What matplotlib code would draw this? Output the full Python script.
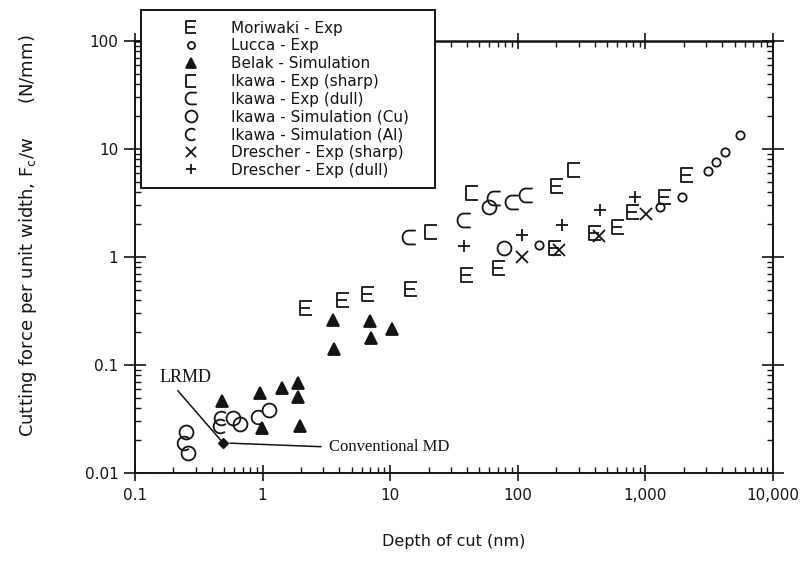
import numpy as np
import matplotlib
matplotlib.use("Agg")
import matplotlib.pyplot as plt
from matplotlib.path import Path
from matplotlib.ticker import LogLocator, FuncFormatter, NullFormatter

# Cutting force per unit width vs. depth of cut (log-log)
moriwaki_depth = [2.2, 4.3, 6.7, 14.6, 40, 71, 197, 203, 404, 615, 806, 1426, 2105]
moriwaki_force = [0.34, 0.40, 0.45, 0.51, 0.68, 0.79, 1.2, 4.5, 1.66, 1.91, 2.62, 3.6, 5.7]

lucca_depth = [146, 1303, 1923, 3105, 3607, 4198, 5500]
lucca_force = [1.29, 2.9, 3.6, 6.2, 7.6, 9.4, 13.5]

belak_depth = [0.48, 0.95, 1.42, 1.89, 1.89, 0.99, 1.97, 3.54, 3.63, 6.93, 7.06, 10.3]
belak_force = [0.046, 0.055, 0.061, 0.068, 0.051, 0.026, 0.027, 0.26, 0.14, 0.255, 0.177, 0.214]

ikawa_sharp_depth = [20.8, 44, 274]
ikawa_sharp_force = [1.71, 3.9, 6.4]

ikawa_dull_depth = [14.1, 37.9, 65, 90, 115]
ikawa_dull_force = [1.52, 2.2, 3.5, 3.25, 3.75]

ikawa_cu_depth = [0.25, 0.26, 0.59, 0.66, 1.13, 59, 78]
ikawa_cu_force = [0.024, 0.0153, 0.032, 0.0285, 0.038, 2.9, 1.2]

ikawa_al_depth = [0.24, 0.46, 0.475, 0.92]
ikawa_al_force = [0.019, 0.027, 0.032, 0.033]

drescher_sharp_depth = [108, 209, 430, 1019]
drescher_sharp_force = [1.0, 1.16, 1.56, 2.5]

drescher_dull_depth = [38, 108, 221, 443, 830]
drescher_dull_force = [1.26, 1.6, 1.98, 2.72, 3.6]

md_depth = [0.49]
md_force = [0.019]

# custom open marker shapes
E_MARK = Path([(0.8, 1), (-0.8, 1), (-0.8, -1), (0.8, -1), (-0.8, 0), (0.6, 0)],
              [Path.MOVETO, Path.LINETO, Path.LINETO, Path.LINETO, Path.MOVETO, Path.LINETO])
SQ_C = Path([(0.9, 1), (-0.9, 1), (-0.9, -1), (0.9, -1)],
            [Path.MOVETO, Path.LINETO, Path.LINETO, Path.LINETO])
_t = np.linspace(np.pi / 2, 3 * np.pi / 2, 25)
_round = np.column_stack([-0.1 + 0.9 * np.cos(_t), np.sin(_t)])
ROUND_C = Path(np.vstack([[0.9, 1.0], _round, [0.9, -1.0]]))
ARC_C = Path.arc(50, 310)

INK = "#141414"
plt.rcParams["font.family"] = ["DejaVu Sans"]

fig = plt.figure(figsize=(8.07, 5.61), dpi=100)
ax = fig.add_axes([135 / 807, 1 - 473 / 561, (773 - 135) / 807, (473 - 41) / 561])
ax.set_xscale("log")
ax.set_yscale("log")
ax.set_xlim(0.1, 10000)
ax.set_ylim(0.01, 100)

common = dict(linestyle="none", color=INK, markeredgewidth=1.3)
ax.plot(moriwaki_depth, moriwaki_force, marker=E_MARK, markersize=10,
        markerfacecolor="none", label="Moriwaki - Exp", **common)
ax.plot(lucca_depth, lucca_force, marker="o", markersize=6,
        markerfacecolor="none", label="Lucca - Exp", **common)
ax.plot(belak_depth, belak_force, marker="^", markersize=8,
        markerfacecolor=INK, label="Belak - Simulation", **common)
ax.plot(ikawa_sharp_depth, ikawa_sharp_force, marker=SQ_C, markersize=10,
        markerfacecolor="none", label="Ikawa - Exp (sharp)", **common)
ax.plot(ikawa_dull_depth, ikawa_dull_force, marker=ROUND_C, markersize=10,
        markerfacecolor="none", label="Ikawa - Exp (dull)", **common)
ax.plot(ikawa_cu_depth, ikawa_cu_force, marker="o", markersize=10,
        markerfacecolor="none", label="Ikawa - Simulation (Cu)", **common)
ax.plot(ikawa_al_depth, ikawa_al_force, marker=ARC_C, markersize=10,
        markerfacecolor="none", label="Ikawa - Simulation (Al)", **common)
ax.plot(drescher_sharp_depth, drescher_sharp_force, marker="x", markersize=8,
        label="Drescher - Exp (sharp)", **common)
ax.plot(drescher_dull_depth, drescher_dull_force, marker="+", markersize=9,
        label="Drescher - Exp (dull)", **common)
ax.plot(md_depth, md_force, marker="D", markersize=5, markerfacecolor=INK,
        linestyle="none", color=INK)

# annotations for the two MD results
ax.annotate("LRMD", xy=(md_depth[0], md_force[0]), xytext=(0.157, 0.077),
            textcoords="data", ha="left", va="center", fontsize=13,
            family="Liberation Serif", color=INK,
            arrowprops=dict(arrowstyle="-", color=INK, lw=1.1,
                            relpos=(0.26, 0.0), shrinkA=2, shrinkB=1))
ax.annotate("Conventional MD", xy=(md_depth[0], md_force[0]), xytext=(3.34, 0.0174),
            textcoords="data", ha="left", va="center", fontsize=12,
            family="Liberation Serif", color=INK,
            arrowprops=dict(arrowstyle="-", color=INK, lw=1.1,
                            relpos=(0.0, 0.5), shrinkA=4, shrinkB=5))

# axes frame and ticks
for s in ax.spines.values():
    s.set_linewidth(1.4)
    s.set_color(INK)
ax.spines["top"].set_linewidth(1.8)

def fmt(v, _):
    return f"{v:,.0f}" if v >= 1 else f"{v:g}"

ax.xaxis.set_major_locator(LogLocator(base=10, numticks=10))
ax.yaxis.set_major_locator(LogLocator(base=10, numticks=10))
ax.xaxis.set_minor_locator(LogLocator(base=10, subs=range(2, 10), numticks=20))
ax.yaxis.set_minor_locator(LogLocator(base=10, subs=range(2, 10), numticks=20))
ax.xaxis.set_major_formatter(FuncFormatter(fmt))
ax.yaxis.set_major_formatter(FuncFormatter(fmt))
ax.xaxis.set_minor_formatter(NullFormatter())
ax.yaxis.set_minor_formatter(NullFormatter())

ax.tick_params(which="major", direction="inout", length=12, width=1.2,
               color=INK, labelsize=11, labelcolor=INK, pad=5,
               top=True, right=True)
ax.tick_params(axis="y", which="major", length=16, pad=4)
ax.tick_params(which="minor", direction="in", length=4, width=1.0,
               color=INK, top=True, right=True)

ax.set_xlabel("Depth of cut (nm)", fontsize=11.5, color=INK, labelpad=22)
ax.set_ylabel(r"Cutting force per unit width, F$_\mathregular{c}$/w      (N/mm)",
              fontsize=13, color=INK)
ax.yaxis.set_label_coords(-0.150, 0.549)

leg = fig.legend(loc="upper left",
                 bbox_to_anchor=(141 / 807, 1 - 189 / 561, (435 - 141) / 807, (189 - 10) / 561),
                 mode="expand", fontsize=11, frameon=True, fancybox=False,
                 edgecolor=INK, framealpha=1, borderpad=0.7, labelspacing=0.18,
                 handlelength=5.2, handletextpad=0.0, numpoints=1, borderaxespad=0,
                 markerscale=0.85)
leg.get_frame().set_linewidth(1.4)
for t in leg.get_texts():
    t.set_color(INK)

fig.savefig("out.png", dpi=100, facecolor="white")
